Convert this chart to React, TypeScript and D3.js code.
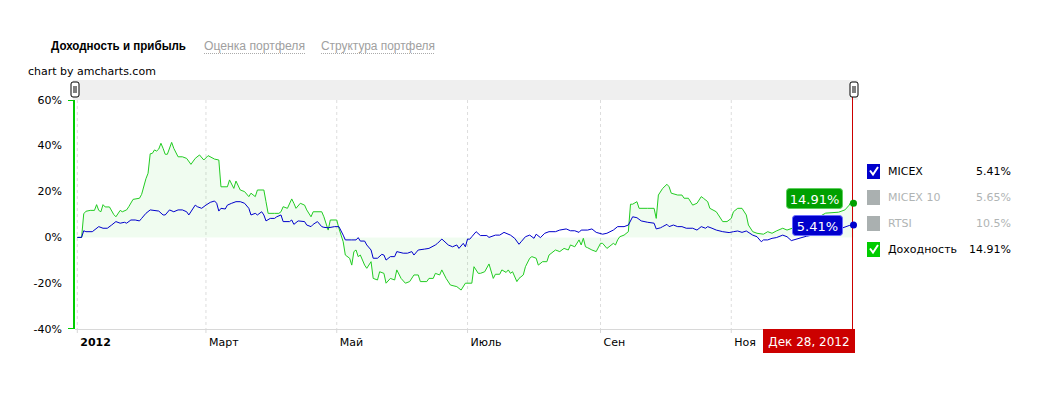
import React from "react";
import * as d3 from "d3";

const tabLabels = ["Доходность и прибыль", "Оценка портфеля", "Структура портфеля"];
const yTicks = [60, 40, 20, 0, -20, -40];
const monthTicks = ["2012-01-01", "2012-03-01", "2012-05-01", "2012-07-01", "2012-09-01", "2012-11-01"];
const monthLabels = ["2012", "Март", "Май", "Июль", "Сен", "Ноя"];
const cursorDate = "2012-12-28";
const cursorLabel = "Дек 28, 2012";

const legendNames = ["MICEX", "MICEX 10", "RTSI", "Доходность"];
const legendValues = ["5.41%", "5.65%", "10.5%", "14.91%"];
const legendColors = ["#0000cc", "#aab0b0", "#aab0b0", "#00cc00"];
const legendActive = [true, false, false, true];

// Доходность (portfolio yield), %
const yieldSeries: [string, number][] = [
  ["2012-01-01",0],["2012-01-03",0],["2012-01-04",10.3],["2012-01-05",11.4],["2012-01-07",11.8],["2012-01-09",11.8],["2012-01-10",14.3],["2012-01-11",11.8],["2012-01-12",11.2],["2012-01-13",14.3],["2012-01-14",13.3],["2012-01-16",13.3],["2012-01-18",10.0],["2012-01-19",9.0],["2012-01-21",11.8],["2012-01-22",11.2],["2012-01-24",12.0],["2012-01-25",13.4],["2012-01-27",16.6],["2012-01-30",17.1],["2012-01-31",18.8],
  ["2012-02-02",25.6],["2012-02-03",28.0],["2012-02-04",36.5],["2012-02-05",36.7],["2012-02-06",38.2],["2012-02-07",37.7],["2012-02-08",38.6],["2012-02-09",41.1],["2012-02-10",38.9],["2012-02-11",36.3],["2012-02-12",36.3],["2012-02-14",41.5],["2012-02-15",38.9],["2012-02-17",35.2],["2012-02-19",35.2],["2012-02-21",34.5],["2012-02-23",31.9],["2012-02-25",34.5],["2012-02-27",36.0],["2012-02-29",33.8],
  ["2012-03-02",35.7],["2012-03-05",34.2],["2012-03-07",33.8],["2012-03-08",22.1],["2012-03-11",22.1],["2012-03-12",25.1],["2012-03-14",21.4],["2012-03-15",24.6],["2012-03-17",20.7],["2012-03-19",20.0],["2012-03-21",17.8],["2012-03-22",19.3],["2012-03-24",17.8],["2012-03-25",20.7],["2012-03-28",20.7],["2012-03-29",15.6],["2012-03-30",10.5],
  ["2012-04-02",10.5],["2012-04-04",10.5],["2012-04-05",11.2],["2012-04-06",13.4],["2012-04-08",12.7],["2012-04-10",16.8],["2012-04-11",14.9],["2012-04-12",12.7],["2012-04-14",14.9],["2012-04-16",14.1],["2012-04-17",12.0],["2012-04-19",9.0],["2012-04-20",11.2],["2012-04-24",11.2],["2012-04-25",9.0],["2012-04-27",3.2],["2012-04-28",7.6],
  ["2012-05-01",7.6],["2012-05-02",4.0],["2012-05-04",-1.9],["2012-05-05",-7.7],["2012-05-07",-9.1],["2012-05-08",-12.1],["2012-05-09",-6.2],["2012-05-10",-5.5],["2012-05-11",-8.4],["2012-05-12",-7.7],["2012-05-14",-12.1],["2012-05-15",-13.5],["2012-05-17",-10.6],["2012-05-18",-17.9],["2012-05-20",-18.6],["2012-05-21",-15.0],["2012-05-23",-15.7],["2012-05-24",-20.0],["2012-05-26",-17.9],["2012-05-28",-18.6],["2012-05-29",-14.2],["2012-05-31",-17.9],
  ["2012-06-02",-20.0],["2012-06-04",-19.3],["2012-06-06",-16.4],["2012-06-08",-16.4],["2012-06-09",-19.3],["2012-06-12",-19.3],["2012-06-13",-17.9],["2012-06-15",-17.9],["2012-06-16",-15.7],["2012-06-18",-16.4],["2012-06-19",-14.2],["2012-06-21",-17.9],["2012-06-23",-20.8],["2012-06-26",-21.5],["2012-06-28",-23.0],["2012-06-30",-20.0],
  ["2012-07-03",-20.0],["2012-07-04",-12.8],["2012-07-06",-15.7],["2012-07-07",-15.7],["2012-07-09",-15.0],["2012-07-11",-11.6],["2012-07-13",-17.9],["2012-07-14",-16.1],["2012-07-16",-16.1],["2012-07-17",-14.2],["2012-07-19",-15.3],["2012-07-20",-14.2],["2012-07-21",-15.7],["2012-07-22",-15.0],["2012-07-24",-19.3],["2012-07-25",-17.9],["2012-07-27",-16.4],["2012-07-28",-12.8],["2012-07-30",-9.1],["2012-07-31",-8.4],
  ["2012-08-02",-9.1],["2012-08-03",-12.1],["2012-08-05",-10.6],["2012-08-07",-10.6],["2012-08-08",-7.7],["2012-08-11",-5.5],["2012-08-13",-6.2],["2012-08-15",-4.8],["2012-08-17",-5.5],["2012-08-18",-3.3],["2012-08-20",-4.1],["2012-08-22",-1.1],["2012-08-23",-3.3],["2012-08-24",-0.4],["2012-08-25",-4.1],["2012-08-26",-4.5],["2012-08-28",-5.5],["2012-08-30",-6.2],
  ["2012-09-01",-2.6],["2012-09-02",-2.6],["2012-09-04",-4.8],["2012-09-05",-4.1],["2012-09-07",-2.6],["2012-09-08",-3.3],["2012-09-09",-1.1],["2012-09-10",0.3],["2012-09-12",1.0],["2012-09-14",2.5],["2012-09-15",14.5],["2012-09-16",14.5],["2012-09-18",15.6],["2012-09-19",12.7],["2012-09-23",12.7],["2012-09-26",12.7],["2012-09-27",8.3],["2012-09-28",18.5],["2012-09-30",21.4],
  ["2012-10-02",23.2],["2012-10-03",22.1],["2012-10-04",19.3],["2012-10-07",18.5],["2012-10-09",18.5],["2012-10-10",17.1],["2012-10-12",17.1],["2012-10-14",14.1],["2012-10-16",14.9],["2012-10-18",17.8],["2012-10-19",17.1],["2012-10-21",15.6],["2012-10-22",12.7],["2012-10-25",11.2],["2012-10-26",9.8],["2012-10-28",6.9],["2012-10-30",6.9],
  ["2012-11-01",8.3],["2012-11-02",11.2],["2012-11-04",12.7],["2012-11-06",12.7],["2012-11-08",9.8],["2012-11-09",5.4],["2012-11-11",2.5],["2012-11-13",1.8],["2012-11-16",1.4],["2012-11-18",2.5],["2012-11-20",1.8],["2012-11-22",2.8],["2012-11-25",4.0],["2012-11-27",3.2],
  ["2012-12-04",5.5],["2012-12-11",8.5],["2012-12-15",10.6],["2012-12-21",11.0],["2012-12-24",12.0],["2012-12-26",14.1],["2012-12-27",16.0],["2012-12-28",14.91],
];

// MICEX, %
const micexSeries: [string, number][] = [
  ["2012-01-01",0],["2012-01-03",0],["2012-01-04",2.9],["2012-01-05",2.5],["2012-01-08",2.5],["2012-01-11",4.7],["2012-01-13",4.0],["2012-01-15",4.0],["2012-01-17",5.4],["2012-01-19",6.9],["2012-01-21",6.2],["2012-01-23",6.6],["2012-01-24",6.2],["2012-01-26",7.6],["2012-01-28",7.6],["2012-01-30",7.2],["2012-01-31",8.3],
  ["2012-02-02",10.5],["2012-02-04",12.0],["2012-02-08",11.5],["2012-02-10",9.8],["2012-02-11",9.8],["2012-02-13",12.0],["2012-02-15",11.2],["2012-02-17",12.0],["2012-02-19",12.0],["2012-02-21",11.2],["2012-02-22",9.8],["2012-02-25",14.1],["2012-02-26",13.4],["2012-02-28",12.7],
  ["2012-03-01",14.1],["2012-03-03",15.3],["2012-03-05",15.9],["2012-03-06",14.9],["2012-03-07",11.5],["2012-03-08",12.7],["2012-03-10",12.4],["2012-03-11",14.1],["2012-03-13",14.9],["2012-03-15",15.6],["2012-03-17",15.6],["2012-03-19",14.9],["2012-03-21",12.7],["2012-03-22",9.8],["2012-03-24",10.5],["2012-03-25",9.8],["2012-03-27",11.2],["2012-03-28",9.8],["2012-03-29",7.2],["2012-03-31",8.3],
  ["2012-04-02",8.3],["2012-04-03",9.0],["2012-04-05",9.8],["2012-04-06",6.9],["2012-04-09",6.9],["2012-04-10",7.6],["2012-04-11",5.7],["2012-04-13",7.2],["2012-04-16",6.9],["2012-04-17",5.4],["2012-04-19",4.7],["2012-04-20",5.7],["2012-04-22",6.9],["2012-04-24",4.7],["2012-04-25",4.4],["2012-04-27",4.2],["2012-04-30",4.7],
  ["2012-05-02",4.7],["2012-05-04",1.0],["2012-05-05",-1.1],["2012-05-08",-1.1],["2012-05-10",-1.1],["2012-05-11",-0.1],["2012-05-12",-1.6],["2012-05-14",-1.6],["2012-05-15",-3.3],["2012-05-17",-5.5],["2012-05-18",-9.1],["2012-05-20",-9.1],["2012-05-22",-7.4],["2012-05-23",-7.7],["2012-05-24",-9.9],["2012-05-26",-8.4],["2012-05-28",-8.4],["2012-05-29",-6.2],
  ["2012-06-01",-6.9],["2012-06-03",-6.9],["2012-06-05",-6.2],["2012-06-06",-7.7],["2012-06-08",-5.5],["2012-06-11",-5.1],["2012-06-13",-4.8],["2012-06-16",-3.3],["2012-06-17",-2.6],["2012-06-19",-0.7],["2012-06-22",-3.3],["2012-06-24",-4.1],["2012-06-26",-3.3],["2012-06-27",-4.8],["2012-06-29",-2.6],["2012-06-30",-4.1],
  ["2012-07-01",-0.7],["2012-07-02",-0.8],["2012-07-03",0.3],["2012-07-05",2.5],["2012-07-07",0.8],["2012-07-10",0.8],["2012-07-11",0.0],["2012-07-14",1.0],["2012-07-16",1.0],["2012-07-18",2.2],["2012-07-21",1.0],["2012-07-23",-0.4],["2012-07-25",-3.0],["2012-07-26",-1.9],["2012-07-28",0.3],["2012-07-30",1.0],
  ["2012-08-01",-0.4],["2012-08-02",1.4],["2012-08-04",-0.1],["2012-08-06",1.8],["2012-08-08",2.5],["2012-08-11",2.5],["2012-08-13",3.2],["2012-08-16",3.7],["2012-08-18",2.9],["2012-08-20",2.9],["2012-08-22",2.2],["2012-08-23",3.2],["2012-08-26",3.2],["2012-08-28",3.7],["2012-08-30",2.2],
  ["2012-09-02",1.4],["2012-09-04",1.8],["2012-09-07",3.2],["2012-09-09",4.7],["2012-09-12",4.7],["2012-09-14",5.4],["2012-09-16",9.0],["2012-09-18",8.6],["2012-09-20",7.2],["2012-09-23",6.6],["2012-09-26",6.2],["2012-09-27",3.7],["2012-09-29",4.2],["2012-09-30",4.7],
  ["2012-10-02",5.7],["2012-10-03",4.7],["2012-10-05",5.4],["2012-10-07",4.7],["2012-10-09",4.7],["2012-10-11",4.0],["2012-10-14",4.0],["2012-10-16",3.2],["2012-10-18",4.7],["2012-10-20",4.0],["2012-10-21",4.7],["2012-10-23",4.0],["2012-10-25",3.2],["2012-10-28",2.5],["2012-10-31",2.1],
  ["2012-11-02",2.5],["2012-11-04",2.8],["2012-11-06",2.2],["2012-11-08",2.8],["2012-11-11",1.0],["2012-11-13",0.3],["2012-11-15",-1.9],["2012-11-16",-1.1],["2012-11-18",-1.1],["2012-11-20",-0.4],["2012-11-22",-0.1],["2012-11-25",1.0],["2012-11-27",0.3],["2012-11-29",-1.4],
  ["2012-12-06",0.5],["2012-12-14",2.0],["2012-12-21",3.5],["2012-12-26",5.2],["2012-12-28",5.41],
];

const FONT = "Verdana, 'DejaVu Sans', sans-serif";
const TAB_FONT = "Tahoma, 'Liberation Sans', Arial, sans-serif";
const parse = d3.timeParse("%Y-%m-%d");

type Pt = { date: Date; v: number };
const toPts = (s: [string, number][]): Pt[] => s.map(([d, v]) => ({ date: parse(d) as Date, v }));

export default function App() {
  const green = toPts(yieldSeries);
  const blue = toPts(micexSeries);

  const x = d3.scaleTime().domain([parse("2012-01-01") as Date, parse(cursorDate) as Date]).range([77.3, 853.5]);
  const y = d3.scaleLinear().domain([-40, 60]).range([329, 100]);

  const line = d3.line<Pt>().x((d) => x(d.date)).y((d) => y(d.v));
  const area = d3.area<Pt>().x((d) => x(d.date)).y0(y(0)).y1((d) => y(d.v));

  const plotL = 75, plotR = 852, plotT = 100, plotB = 329;
  const gLast = green[green.length - 1];
  const bLast = blue[blue.length - 1];

  const check = (bx: number, by: number) => `M${bx + 3},${by + 6.5} L${bx + 6},${by + 10.5} L${bx + 11},${by + 3}`;

  return (
    <svg width={1049} height={411} style={{ position: "absolute", left: 0, top: 0, background: "#fff" }} fontFamily={FONT}>
      {/* tabs */}
      <text x={51} y={46} fontFamily={TAB_FONT} fontSize={12} fontWeight="bold" fill="#000" dominantBaseline="central" textLength={135} lengthAdjust="spacingAndGlyphs">{tabLabels[0]}</text>
      <text x={204} y={46} fontFamily={TAB_FONT} fontSize={12} fill="#a0a0a0" dominantBaseline="central" textLength={101} lengthAdjust="spacingAndGlyphs">{tabLabels[1]}</text>
      <line x1={204} x2={305} y1={53.5} y2={53.5} stroke="#aaa" strokeDasharray="1,1" />
      <text x={321} y={46} fontFamily={TAB_FONT} fontSize={12} fill="#a0a0a0" dominantBaseline="central" textLength={114} lengthAdjust="spacingAndGlyphs">{tabLabels[2]}</text>
      <line x1={321} x2={435} y1={53.5} y2={53.5} stroke="#aaa" strokeDasharray="1,1" />

      <text x={28} y={71.5} fontSize={11} fill="#000" dominantBaseline="central">chart by amcharts.com</text>

      {/* scrollbar */}
      <rect x={73} y={80} width={785} height={20} fill="#efefef" />

      {/* vertical grid */}
      {monthTicks.map((m, i) => {
        const px = x(parse(m) as Date);
        return <line key={"g" + i} x1={px} x2={px} y1={plotT} y2={plotB} stroke="#ddd" strokeDasharray="3,3" />;
      })}

      <defs>
        <clipPath id="plotClip">
          <rect x={plotL} y={plotT} width={plotR - plotL + 4} height={plotB - plotT} />
        </clipPath>
      </defs>

      <g clipPath="url(#plotClip)">
        <path d={area(green) as string} fill="#00cc00" fillOpacity={0.06} />
        <path d={line(green) as string} fill="none" stroke="#22cc22" strokeWidth={1} />
        <path d={line(blue) as string} fill="none" stroke="#0000cc" strokeWidth={1} />
      </g>

      {/* x axis */}
      <line x1={plotL} x2={plotR} y1={plotB + 0.5} y2={plotB + 0.5} stroke="#d8d8d8" />
      {monthTicks.map((m, i) => {
        const px = x(parse(m) as Date);
        return (
          <g key={"t" + i}>
            <line x1={px} x2={px} y1={plotB} y2={plotB + 4} stroke="#d8d8d8" />
            <text x={px + 3} y={342} fontSize={11} fontWeight={i === 0 ? "bold" : "normal"} fill="#000" dominantBaseline="central">
              {monthLabels[i]}
            </text>
          </g>
        );
      })}

      {/* y axis */}
      <line x1={74} x2={74} y1={plotT} y2={plotB} stroke="#00cc00" strokeWidth={2} />
      <line x1={68} x2={74} y1={plotT + 0.5} y2={plotT + 0.5} stroke="#00cc00" strokeWidth={1} />
      <line x1={68} x2={74} y1={plotB - 0.5} y2={plotB - 0.5} stroke="#00cc00" strokeWidth={1} />
      {yTicks.map((t) => (
        <text key={"y" + t} x={62} y={y(t)} fontSize={11} fill="#000" textAnchor="end" dominantBaseline="central">
          {t + "%"}
        </text>
      ))}

      {/* cursor */}
      <line x1={852.5} x2={852.5} y1={85} y2={plotB} stroke="#cc0000" strokeWidth={1} />
      <rect x={763} y={329} width={92} height={24} fill="#cc0000" />
      <text x={809} y={341.5} fontSize={12} fill="#fff" textAnchor="middle" dominantBaseline="central">{cursorLabel}</text>

      {/* scrollbar grips */}
      {[75, 854].map((gx, i) => (
        <g key={"grip" + i}>
          <rect x={gx - 4} y={82} width={8} height={15} rx={2} fill="#fff" stroke="#000" />
          <line x1={gx - 1} x2={gx - 1} y1={86} y2={93} stroke="#000" />
          <line x1={gx + 1} x2={gx + 1} y1={86} y2={93} stroke="#000" />
        </g>
      ))}

      {/* value balloons */}
      <rect x={786.5} y={188.5} width={56} height={20} rx={3} fill="#00a000" stroke="#5fcf5f" />
      <text x={814.5} y={199} fontSize={13} fill="#fff" textAnchor="middle" dominantBaseline="central">{gLast.v.toFixed(2) + "%"}</text>
      <rect x={792.5} y={215.5} width={50} height={20} rx={3} fill="#0000cc" stroke="#6a6aff" />
      <text x={817.5} y={226} fontSize={13} fill="#fff" textAnchor="middle" dominantBaseline="central">{bLast.v.toFixed(2) + "%"}</text>
      <circle cx={x(gLast.date)} cy={y(gLast.v)} r={3.5} fill="#00a000" />
      <circle cx={x(bLast.date)} cy={y(bLast.v)} r={3.5} fill="#0000cc" />

      {/* legend */}
      {legendNames.map((n, i) => {
        const cy = 171.5 + i * 26;
        const active = legendActive[i];
        return (
          <g key={"l" + i}>
            <rect x={867} y={cy - 7.5} width={13} height={15} fill={legendColors[i]} />
            {active && <path d={check(867, cy - 7.5)} fill="none" stroke="#fff" strokeWidth={2} />}
            <text x={888} y={cy} fontSize={11} fill={active ? "#000" : "#b0b4b4"} dominantBaseline="central">{n}</text>
            <text x={1011} y={cy} fontSize={11} fill={active ? "#000" : "#b0b4b4"} textAnchor="end" dominantBaseline="central">{legendValues[i]}</text>
          </g>
        );
      })}
    </svg>
  );
}
